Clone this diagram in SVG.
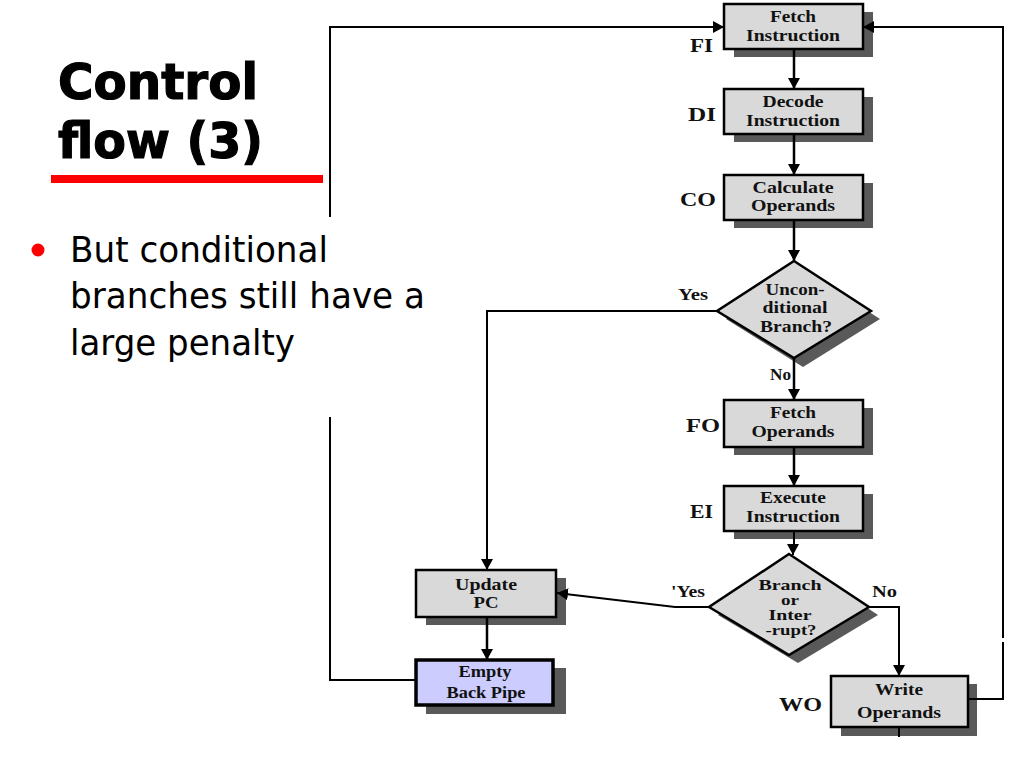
<svg xmlns="http://www.w3.org/2000/svg" width="1024" height="768" viewBox="0 0 1024 768">
<style>
.box{fill:#d9d9d9;stroke:#000;stroke-width:2.5}
.emp{fill:#ccccff;stroke:#000;stroke-width:3.5}
.sh{fill:#595959}
.t{font-family:"Liberation Serif","Times New Roman",serif;font-weight:bold;font-size:17px;text-anchor:middle;fill:#111}
.t2{font-family:"Liberation Serif","Times New Roman",serif;font-weight:bold;font-size:15px;text-anchor:middle;fill:#111}
.lb{font-family:"Liberation Serif","Times New Roman",serif;font-weight:bold;font-size:19px;fill:#111}
.yn{font-family:"Liberation Serif","Times New Roman",serif;font-weight:bold;font-size:16px;fill:#111}
.ln{fill:none;stroke:#000;stroke-width:2.5}
.fb{fill:none;stroke:#000;stroke-width:2}
.title{font-family:"DejaVu Sans",Verdana,sans-serif;font-weight:bold;font-size:49px;fill:#000;stroke:#000;stroke-width:1.2}
.body{font-family:"DejaVu Sans",Tahoma,sans-serif;font-size:35px;fill:#000}
</style>
<defs>
<marker id="ah" viewBox="0 0 11 12" refX="11" refY="6" markerWidth="11" markerHeight="12" markerUnits="userSpaceOnUse" orient="auto">
<path d="M0,0 L11,6 L0,12 z" fill="#000"/>
</marker>
</defs>
<rect width="1024" height="768" fill="#fff"/>

<g id="title">
<text class="title" x="58" y="99" textLength="200" lengthAdjust="spacingAndGlyphs">Control</text>
<text class="title" x="58" y="158" textLength="205" lengthAdjust="spacingAndGlyphs">flow (3)</text>
<rect x="51" y="175" width="272" height="8" fill="#ff0000"/>
</g>
<g id="bullet">
<circle cx="38" cy="250" r="6.5" fill="#ff0000"/>
<text class="body" x="70" y="262" textLength="258" lengthAdjust="spacingAndGlyphs">But conditional</text>
<text class="body" x="70" y="308" textLength="355" lengthAdjust="spacingAndGlyphs">branches still have a</text>
<text class="body" x="70" y="355" textLength="225" lengthAdjust="spacingAndGlyphs">large penalty</text>
</g>

<g id="FI">
<rect class="sh" x="734" y="12" width="139" height="45"/>
<rect class="box" x="724" y="4" width="139" height="45"/>
<text class="t" x="793" y="22" textLength="46" lengthAdjust="spacingAndGlyphs">Fetch</text>
<text class="t" x="793" y="41" textLength="94" lengthAdjust="spacingAndGlyphs">Instruction</text>
<text class="lb" x="690" y="52" textLength="23" lengthAdjust="spacingAndGlyphs">FI</text>
</g>
<g id="DI">
<rect class="sh" x="734" y="97" width="139" height="45"/>
<rect class="box" x="724" y="89" width="139" height="45"/>
<text class="t" x="793" y="107" textLength="61" lengthAdjust="spacingAndGlyphs">Decode</text>
<text class="t" x="793" y="126" textLength="94" lengthAdjust="spacingAndGlyphs">Instruction</text>
<text class="lb" x="688" y="121" textLength="28" lengthAdjust="spacingAndGlyphs">DI</text>
</g>
<g id="CO">
<rect class="sh" x="734" y="183" width="139" height="45"/>
<rect class="box" x="724" y="175" width="139" height="45"/>
<text class="t" x="793" y="193" textLength="81" lengthAdjust="spacingAndGlyphs">Calculate</text>
<text class="t" x="793" y="211" textLength="84" lengthAdjust="spacingAndGlyphs">Operands</text>
<text class="lb" x="680" y="206" textLength="36" lengthAdjust="spacingAndGlyphs">CO</text>
</g>
<g id="D1">
<polygon class="sh" points="803,269 880,319 803,367 726,319"/>
<polygon class="box" points="794,261 871,311 794,358 717,311"/>
<text class="t" x="795" y="295" textLength="59" lengthAdjust="spacingAndGlyphs">Uncon-</text>
<text class="t" x="795" y="313" textLength="65" lengthAdjust="spacingAndGlyphs">ditional</text>
<text class="t" x="796" y="332" textLength="72" lengthAdjust="spacingAndGlyphs">Branch?</text>
<text class="yn" x="678" y="300" textLength="30" lengthAdjust="spacingAndGlyphs">Yes</text>
<text class="yn" x="770" y="380" textLength="21" lengthAdjust="spacingAndGlyphs">No</text>
</g>
<g id="FO">
<rect class="sh" x="734" y="408" width="139" height="47"/>
<rect class="box" x="724" y="400" width="139" height="47"/>
<text class="t" x="793" y="418" textLength="46" lengthAdjust="spacingAndGlyphs">Fetch</text>
<text class="t" x="793" y="437" textLength="83" lengthAdjust="spacingAndGlyphs">Operands</text>
<text class="lb" x="686" y="432" textLength="34" lengthAdjust="spacingAndGlyphs">FO</text>
</g>
<g id="EI">
<rect class="sh" x="734" y="494" width="139" height="45"/>
<rect class="box" x="724" y="486" width="139" height="45"/>
<text class="t" x="793" y="503" textLength="66" lengthAdjust="spacingAndGlyphs">Execute</text>
<text class="t" x="793" y="522" textLength="94" lengthAdjust="spacingAndGlyphs">Instruction</text>
<text class="lb" x="690" y="518" textLength="23" lengthAdjust="spacingAndGlyphs">EI</text>
</g>
<g id="D2">
<polygon class="sh" points="798,562 878,615 798,663 718,615"/>
<polygon class="box" points="789,554 869,607 789,655 709,607"/>
<text class="t2" x="790" y="590" textLength="63" lengthAdjust="spacingAndGlyphs">Branch</text>
<text class="t2" x="790" y="605" textLength="18" lengthAdjust="spacingAndGlyphs">or</text>
<text class="t2" x="790" y="620" textLength="43" lengthAdjust="spacingAndGlyphs">Inter</text>
<text class="t2" x="791" y="635" textLength="51" lengthAdjust="spacingAndGlyphs">-rupt?</text>
<text class="yn" x="671" y="597" textLength="34" lengthAdjust="spacingAndGlyphs">'Yes</text>
<text class="yn" x="872" y="597" textLength="25" lengthAdjust="spacingAndGlyphs">No</text>
</g>
<g id="UPC">
<rect class="sh" x="426" y="578" width="140" height="47"/>
<rect class="box" x="416" y="570" width="140" height="47"/>
<text class="t" x="486" y="590" textLength="62" lengthAdjust="spacingAndGlyphs">Update</text>
<text class="t" x="486" y="608" textLength="25" lengthAdjust="spacingAndGlyphs">PC</text>
</g>
<g id="EBP">
<rect class="sh" x="426" y="668" width="140" height="46"/>
<rect class="emp" x="416" y="660" width="137" height="45"/>
<text class="t" x="485" y="677" textLength="53" lengthAdjust="spacingAndGlyphs">Empty</text>
<text class="t" x="486" y="698" textLength="79" lengthAdjust="spacingAndGlyphs">Back Pipe</text>
</g>
<g id="WO">
<rect class="sh" x="841" y="684" width="136" height="52"/>
<rect class="box" x="831" y="676" width="137" height="51"/>
<text class="t" x="899" y="695" font-size="18" textLength="48" lengthAdjust="spacingAndGlyphs">Write</text>
<text class="t" x="899" y="718" font-size="18" textLength="84" lengthAdjust="spacingAndGlyphs">Operands</text>
<text class="lb" x="779" y="711" font-size="23" textLength="43" lengthAdjust="spacingAndGlyphs">WO</text>
</g>

<g id="connectors">
<line class="ln" x1="794" y1="49" x2="794" y2="89" marker-end="url(#ah)"/>
<line class="ln" x1="794" y1="134" x2="794" y2="175" marker-end="url(#ah)"/>
<line class="ln" x1="794" y1="220" x2="794" y2="261" marker-end="url(#ah)"/>
<line class="ln" x1="794" y1="358" x2="794" y2="400" marker-end="url(#ah)"/>
<line class="ln" x1="794" y1="447" x2="794" y2="486" marker-end="url(#ah)"/>
<polyline class="fb" points="794,531 794,544 793,546 793,555" marker-end="url(#ah)"/>
<polyline class="fb" points="717,311 487,311 487,570" marker-end="url(#ah)"/>
<polyline class="fb" points="709,607 675,607 557,593" marker-end="url(#ah)"/>
<polyline class="fb" points="868,607 899,607 899,676" marker-end="url(#ah)"/>
<line class="ln" x1="487" y1="617" x2="487" y2="660" marker-end="url(#ah)"/>
<polyline class="fb" points="416,680 330,680 330,417"/>
<polyline class="fb" points="330,217 330,27 724,27" marker-end="url(#ah)"/>
<polyline class="fb" points="968,699 1003,699 1003,642"/>
<polyline class="fb" points="1003,638 1003,27 863,27" marker-end="url(#ah)"/>
<line class="fb" x1="899" y1="727" x2="899" y2="737"/>
</g>
</svg>
